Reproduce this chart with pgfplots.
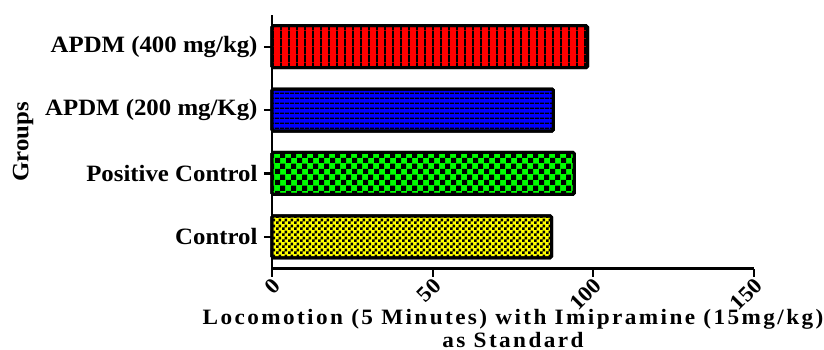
\documentclass[border=0pt]{standalone}
\usepackage{fontspec}
\setmainfont{Liberation Serif}[FakeStretch=1.06]
\usepackage{pgfplots}
\pgfplotsset{compat=1.18}
\usetikzlibrary{patterns}

\definecolor{bred}{RGB}{255,0,0}
\definecolor{bblue}{RGB}{0,0,255}
\definecolor{bgreen}{RGB}{0,255,0}
\definecolor{byellow}{RGB}{255,255,0}

\pgfdeclarepatternformonly{redvl}{\pgfpointorigin}{\pgfpoint{8bp}{8bp}}{\pgfpoint{8bp}{8bp}}{%
  \pgfpathrectangle{\pgfpointorigin}{\pgfpoint{2.2bp}{8bp}}\pgfusepath{fill}}
\pgfdeclarepatternformonly{bluehl}{\pgfpointorigin}{\pgfpoint{4.5bp}{4.5bp}}{\pgfpoint{4.5bp}{4.5bp}}{%
  \pgfpathrectangle{\pgfpointorigin}{\pgfpoint{4.5bp}{1.6bp}}\pgfusepath{fill}}
\pgfdeclarepatternformonly{greenck}{\pgfpointorigin}{\pgfpoint{11bp}{11bp}}{\pgfpoint{11bp}{11bp}}{%
  \pgfpathrectangle{\pgfpointorigin}{\pgfpoint{5.5bp}{5.5bp}}%
  \pgfpathrectangle{\pgfpoint{5.5bp}{5.5bp}}{\pgfpoint{5.5bp}{5.5bp}}\pgfusepath{fill}}
\pgfdeclarepatternformonly{yellowck}{\pgfpointorigin}{\pgfpoint{6bp}{6bp}}{\pgfpoint{6bp}{6bp}}{%
  \pgfpathrectangle{\pgfpointorigin}{\pgfpoint{3bp}{3bp}}%
  \pgfpathrectangle{\pgfpoint{3bp}{3bp}}{\pgfpoint{3bp}{3bp}}\pgfusepath{fill}}

\begin{document}
\begin{tikzpicture}
\begin{axis}[
  scale only axis, width=482bp, height=253.5bp,
  xmin=0, xmax=150, ymin=-0.5, ymax=3.5,
  axis x line*=bottom, axis y line*=left,
  axis line style={line width=2.2bp, black},
  xtick={0,50,100,150}, ytick={0,1,2,3},
  yticklabels={Control, Positive Control, APDM (200 mg/Kg), APDM (400 mg/kg)},
  tick align=outside, major tick length=8bp,
  tick style={line width=2.2bp, black},
  /pgf/number format/assume math mode=true,
  yticklabel style={font=\fontsize{23.5}{25}\selectfont\bfseries, xshift=-3bp},
  xticklabel style={font=\fontsize{22}{24}\selectfont\bfseries, xshift=7bp, yshift=-3bp, rotate=45, anchor=east},
  every axis y label/.style={at={(axis description cs:-0.5166,0.5)}, rotate=90, anchor=center,
     font=\fontsize{23.5}{25}\selectfont\bfseries},
  ylabel={Groups},
  every axis x label/.style={at={(axis description cs:0.5,-0.31)}, anchor=base, align=center,
     font=\fontsize{22}{23}\selectfont\bfseries\addfontfeature{LetterSpace=11}},
  xlabel={Locomotion (5 Minutes) with Imipramine (15mg/kg)\\as Standard},
  xbar, bar width=42bp, bar shift=0pt,
  clip=false,
]
\addplot[fill=bred, draw=black, line width=3bp, rounded corners=1.5bp,
  postaction={pattern=redvl, pattern color=black}] coordinates {(98.2,3)};
\addplot[fill=bblue, draw=black, line width=3bp, rounded corners=1.5bp,
  postaction={pattern=bluehl, pattern color=black}] coordinates {(87.6,2)};
\addplot[fill=bgreen, draw=black, line width=3bp, rounded corners=1.5bp,
  postaction={pattern=greenck, pattern color=black}] coordinates {(94.1,1)};
\addplot[fill=byellow, draw=black, line width=3bp, rounded corners=1.5bp,
  postaction={pattern=yellowck, pattern color=black}] coordinates {(87.0,0)};
\coordinate (o) at (rel axis cs:0,0);
\end{axis}
\pgfresetboundingbox
\path (o) ++(-272bp,-81.5bp) rectangle ++(824bp,350bp);
\end{tikzpicture}
\end{document}
